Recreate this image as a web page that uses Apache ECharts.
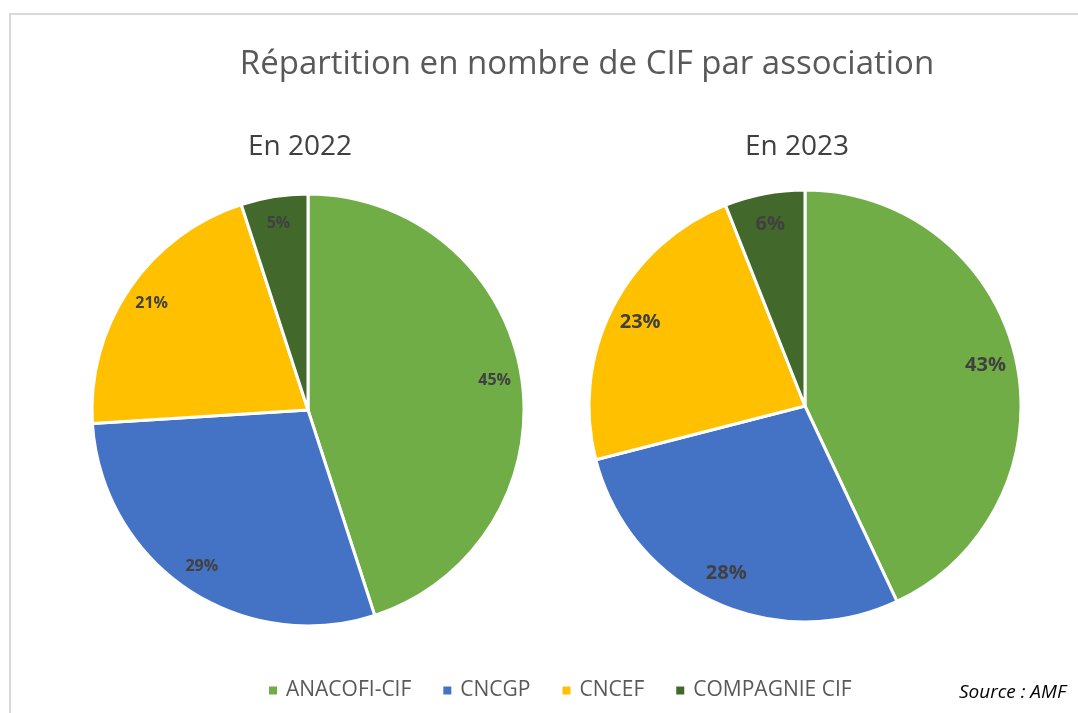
<!DOCTYPE html>
<html>
<head>
<meta charset="utf-8">
<script src="https://cdn.jsdelivr.net/npm/echarts@6/dist/echarts.min.js"></script>
<style>
  html, body { margin: 0; padding: 0; background: #fff; }
  #chart { width: 1078px; height: 713px; }
</style>
</head>
<body>
<div id="chart"></div>
<script>
// données
const categories = ['ANACOFI-CIF', 'CNCGP', 'CNCEF', 'COMPAGNIE CIF']
const values2022 = [45, 29, 21, 5]
const values2023 = [43, 28, 23, 6]
const colors = ['#70AD47', '#4472C4', '#FFC000', '#43682B']

const font = '"Open Sans", "Liberation Sans", sans-serif'

const toData = vals => vals.map((v, i) => ({ name: categories[i], value: v }))

// camembert principal
const pieSeries = (vals, center) => ({
  type: 'pie',
  center: center,
  radius: [0, 216],
  startAngle: 90,
  clockwise: true,
  avoidLabelOverlap: false,
  label: { show: false },
  labelLine: { show: false },
  emphasis: { disabled: true },
  itemStyle: { borderColor: '#fff', borderWidth: 3 },
  data: toData(vals)
})

// anneau transparent pour placer les étiquettes vers l'extérieur
const labelSeries = (vals, center, fontSize, r0) => ({
  type: 'pie',
  center: center,
  radius: [r0, 216],
  startAngle: 90,
  clockwise: true,
  silent: true,
  avoidLabelOverlap: false,
  itemStyle: { color: 'transparent' },
  label: {
    show: true,
    position: 'inside',
    formatter: '{c}%',
    color: '#404040',
    fontWeight: 'bold',
    fontSize: fontSize,
    fontFamily: font
  },
  labelLine: { show: false },
  emphasis: { disabled: true },
  data: toData(vals)
})

const myChart = echarts.init(document.getElementById('chart'))
const option = {
  color: colors,
  animation: false,
  legend: {
    data: categories,
    left: 262,
    top: 675,
    icon: 'rect',
    itemWidth: 10,
    itemHeight: 10,
    itemGap: 30,
    textStyle: { color: '#595959', fontSize: 21, fontFamily: font, padding: [0, 0, 0, 3] }
  },
  graphic: [
    {
      type: 'rect',
      shape: { x: 10, y: 14, width: 1100, height: 720 },
      style: { fill: 'none', stroke: '#d9d9d9', lineWidth: 2 },
      silent: true
    },
    {
      type: 'text',
      x: 587,
      y: 65,
      style: {
        text: 'Répartition en nombre de CIF par association',
        fill: '#595959',
        font: '33px "Open Sans", sans-serif',
        textAlign: 'center',
        textVerticalAlign: 'middle'
      }
    },
    {
      type: 'text',
      x: 300,
      y: 147,
      style: {
        text: 'En 2022',
        fill: '#404040',
        font: '28px "Open Sans", sans-serif',
        textAlign: 'center',
        textVerticalAlign: 'middle'
      }
    },
    {
      type: 'text',
      x: 797,
      y: 147,
      style: {
        text: 'En 2023',
        fill: '#404040',
        font: '28px "Open Sans", sans-serif',
        textAlign: 'center',
        textVerticalAlign: 'middle'
      }
    },
    {
      type: 'text',
      x: 1066,
      y: 693,
      style: {
        text: 'Source : AMF',
        fill: '#000',
        font: 'italic 19px "Open Sans", sans-serif',
        textAlign: 'right',
        textVerticalAlign: 'middle'
      }
    }
  ],
  series: [
    pieSeries(values2022, [308, 410]),
    pieSeries(values2023, [805, 406]),
    labelSeries(values2022, [308, 410], 16, 156),
    labelSeries(values2023, [805, 406], 20, 148)
  ]
}
myChart.setOption(option)
</script>
</body>
</html>
